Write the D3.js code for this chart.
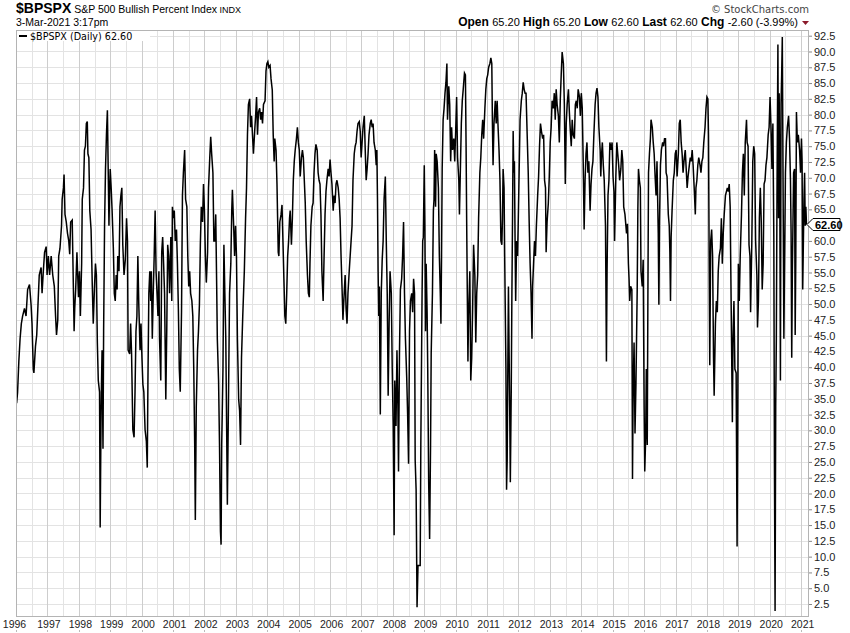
<!DOCTYPE html>
<html><head><meta charset="utf-8">
<script src="https://cdn.jsdelivr.net/npm/d3@7"></script>
<style>body{margin:0;background:#fff}svg{display:block}</style>
</head><body><svg id="c" width="850" height="633"></svg>
<script>
// ---- data: [decimal year, bullish percent] ----
const seg1996to2002 = [[1996.02,34.3],[1996.05,36.0],[1996.09,40.9],[1996.13,44.5],[1996.17,46.9],[1996.21,48.1],[1996.27,49.3],[1996.32,48.1],[1996.37,52.3],[1996.43,53.1],[1996.48,49.9],[1996.51,46.9],[1996.55,39.7],[1996.57,39.1],[1996.62,43.3],[1996.66,45.1],[1996.70,49.9],[1996.74,54.6],[1996.80,55.8],[1996.83,51.7],[1996.87,55.2],[1996.91,58.2],[1996.96,59.1],[1996.99,54.6],[1997.03,57.6],[1997.07,54.6],[1997.12,57.6],[1997.17,54.6],[1997.22,52.8],[1997.26,48.1],[1997.29,45.1],[1997.33,47.5],[1997.36,57.6],[1997.40,58.8],[1997.45,62.4],[1997.47,66.6],[1997.51,68.4],[1997.53,70.5],[1997.56,64.2],[1997.60,63.0],[1997.64,61.2],[1997.68,60.0],[1997.71,57.9],[1997.74,63.0],[1997.79,63.3],[1997.83,51.7],[1997.85,45.7],[1997.87,49.3],[1997.90,52.3],[1997.94,58.2],[1997.96,55.2],[1997.99,51.1],[1998.02,55.2],[1998.05,48.1],[1998.09,56.4],[1998.11,66.6],[1998.15,68.4],[1998.18,74.4],[1998.21,75.0],[1998.24,78.6],[1998.27,78.9],[1998.29,73.8],[1998.32,73.2],[1998.35,64.8],[1998.39,61.8],[1998.43,52.8],[1998.46,46.9],[1998.50,52.8],[1998.53,56.4],[1998.56,54.6],[1998.59,43.9],[1998.62,37.9],[1998.66,36.1],[1998.68,14.6],[1998.71,33.7],[1998.74,42.7],[1998.77,27.1],[1998.79,45.7],[1998.82,62.4],[1998.85,71.4],[1998.88,76.8],[1998.91,80.7],[1998.96,62.4],[1998.98,67.8],[1999.00,71.4],[1999.03,68.4],[1999.06,64.8],[1999.10,58.8],[1999.13,51.7],[1999.16,50.5],[1999.19,54.6],[1999.22,52.3],[1999.24,57.6],[1999.28,55.2],[1999.31,65.4],[1999.34,67.2],[1999.37,68.4],[1999.40,59.4],[1999.44,54.6],[1999.48,57.0],[1999.52,63.6],[1999.55,60.0],[1999.57,42.7],[1999.62,42.1],[1999.65,46.9],[1999.68,42.1],[1999.72,30.1],[1999.76,28.9],[1999.79,36.1],[1999.82,45.7],[1999.85,48.1],[1999.88,57.6],[1999.91,49.9],[1999.95,42.7],[1999.98,46.9],[2000.01,41.5],[2000.04,37.3],[2000.07,36.1],[2000.11,30.1],[2000.15,28.3],[2000.18,24.1],[2000.20,37.3],[2000.23,51.7],[2000.26,55.2],[2000.29,50.5],[2000.31,55.2],[2000.34,44.5],[2000.37,51.7],[2000.40,57.6],[2000.43,64.8],[2000.46,55.2],[2000.49,51.7],[2000.52,48.1],[2000.55,55.2],[2000.57,44.5],[2000.61,37.9],[2000.64,58.2],[2000.67,60.6],[2000.70,56.4],[2000.73,51.7],[2000.77,34.9],[2000.80,45.7],[2000.83,59.4],[2000.86,57.6],[2000.89,51.7],[2000.93,60.6],[2000.96,50.5],[2000.98,65.4],[2001.01,63.6],[2001.04,64.8],[2001.07,60.0],[2001.11,61.8],[2001.14,56.4],[2001.17,49.3],[2001.20,39.7],[2001.23,36.1],[2001.27,48.7],[2001.30,67.2],[2001.33,70.8],[2001.37,74.4],[2001.40,66.6],[2001.44,65.4],[2001.47,57.6],[2001.50,52.8],[2001.53,55.2],[2001.56,51.7],[2001.60,50.5],[2001.63,48.1],[2001.66,39.7],[2001.69,27.7],[2001.71,15.8],[2001.74,33.7],[2001.78,42.7],[2001.81,45.7],[2001.84,49.9],[2001.87,59.4],[2001.90,65.4],[2001.94,63.0],[2001.97,69.0],[2002.00,64.8],[2002.03,57.6],[2002.06,53.4],[2002.10,58.2],[2002.13,68.4],[2002.17,73.2],[2002.20,76.5],[2002.23,73.8],[2002.27,70.8],[2002.30,60.0]];
const seg2002to2008 = [[2002.33,60.0],[2002.36,64.2],[2002.39,52.8],[2002.41,44.5],[2002.45,37.9],[2002.48,27.7],[2002.51,14.0],[2002.53,11.9],[2002.55,27.7],[2002.59,39.7],[2002.62,59.4],[2002.65,51.7],[2002.68,44.5],[2002.71,28.9],[2002.73,18.2],[2002.77,36.7],[2002.80,51.7],[2002.84,56.4],[2002.87,64.8],[2002.89,68.1],[2002.93,62.4],[2002.96,57.6],[2002.99,62.4],[2003.02,57.6],[2003.05,44.5],[2003.09,34.9],[2003.12,33.1],[2003.15,27.7],[2003.18,41.5],[2003.22,48.1],[2003.27,55.2],[2003.31,63.6],[2003.34,68.4],[2003.37,76.8],[2003.40,81.6],[2003.44,82.5],[2003.47,78.0],[2003.50,79.8],[2003.53,76.8],[2003.56,73.8],[2003.60,77.4],[2003.63,79.8],[2003.66,82.8],[2003.69,76.8],[2003.72,80.4],[2003.76,81.0],[2003.79,79.2],[2003.82,80.4],[2003.85,78.6],[2003.88,81.6],[2003.93,82.2],[2003.96,86.9],[2003.99,88.1],[2004.02,88.4],[2004.05,87.5],[2004.09,87.8],[2004.12,85.7],[2004.16,83.9],[2004.19,76.8],[2004.22,72.6],[2004.24,76.2],[2004.28,74.4],[2004.31,69.0],[2004.33,63.6],[2004.35,58.2],[2004.37,57.6],[2004.40,63.0],[2004.44,64.2],[2004.47,65.7],[2004.50,60.0],[2004.53,54.0],[2004.56,48.1],[2004.59,46.9],[2004.62,51.7],[2004.65,57.6],[2004.68,60.0],[2004.71,63.6],[2004.73,64.8],[2004.77,59.4],[2004.80,63.6],[2004.83,69.6],[2004.86,72.6],[2004.89,74.4],[2004.93,76.2],[2004.96,78.0],[2004.99,75.6],[2005.02,74.4],[2005.05,70.2],[2005.09,73.2],[2005.12,74.4],[2005.15,73.2],[2005.18,69.6],[2005.21,66.0],[2005.24,60.0],[2005.28,54.6],[2005.31,51.7],[2005.34,51.1],[2005.36,56.4],[2005.39,62.4],[2005.43,65.4],[2005.46,66.0],[2005.49,70.8],[2005.52,73.8],[2005.55,75.3],[2005.59,74.4],[2005.62,70.8],[2005.65,69.6],[2005.68,69.0],[2005.71,64.2],[2005.74,55.2],[2005.78,50.5],[2005.81,57.6],[2005.84,64.2],[2005.87,67.8],[2005.90,69.6],[2005.94,71.4],[2005.97,70.2],[2006.00,72.9],[2006.03,70.8],[2006.06,69.0],[2006.10,64.8],[2006.13,67.2],[2006.16,66.0],[2006.19,69.0],[2006.22,69.6],[2006.26,68.4],[2006.29,66.6],[2006.32,63.6],[2006.35,57.6],[2006.38,52.8],[2006.41,47.5],[2006.45,51.7],[2006.48,54.6],[2006.51,49.3],[2006.54,46.9],[2006.57,51.7],[2006.61,55.2],[2006.64,57.6],[2006.67,60.0],[2006.70,62.4],[2006.73,69.6],[2006.77,73.8],[2006.80,75.0],[2006.83,75.6],[2006.86,77.4],[2006.89,78.6],[2006.93,78.9],[2006.96,77.4],[2006.99,73.2],[2007.02,75.6],[2007.05,78.0],[2007.09,79.8],[2007.12,74.4],[2007.15,69.6],[2007.18,71.4],[2007.21,73.8],[2007.24,76.8],[2007.28,78.6],[2007.31,79.2],[2007.34,78.0],[2007.37,78.6],[2007.40,75.6],[2007.44,74.4],[2007.47,72.0],[2007.49,74.4],[2007.51,66.6],[2007.53,55.2],[2007.55,48.1],[2007.57,52.8],[2007.60,32.5],[2007.63,51.7],[2007.66,57.0],[2007.69,60.0],[2007.72,66.6],[2007.76,70.2],[2007.79,60.0],[2007.82,51.7],[2007.85,35.5],[2007.88,46.9],[2007.91,55.2],[2007.95,51.7],[2007.98,39.7],[2008.01,30.7],[2008.04,13.4],[2008.06,37.9],[2008.10,30.7],[2008.13,42.7],[2008.16,33.7],[2008.18,23.5],[2008.21,42.1],[2008.24,52.3],[2008.28,54.0],[2008.31,57.6],[2008.34,63.0],[2008.37,51.7],[2008.40,44.5],[2008.44,38.5],[2008.47,32.5],[2008.50,24.7],[2008.53,45.7],[2008.56,50.5],[2008.60,51.7],[2008.63,48.7],[2008.66,54.0],[2008.69,51.7],[2008.71,25.3],[2008.74,20.6],[2008.77,2.0],[2008.80,8.6],[2008.83,8.6]];
const seg2008to2015 = [[2008.87,8.6],[2008.89,27.7],[2008.93,51.7],[2008.95,60.0],[2008.97,60.6],[2009.00,72.0],[2009.02,62.4],[2009.04,45.7],[2009.06,56.4],[2009.09,48.7],[2009.11,39.7],[2009.14,21.8],[2009.17,12.8],[2009.20,27.7],[2009.22,42.1],[2009.26,51.7],[2009.29,64.8],[2009.31,66.6],[2009.33,74.4],[2009.36,65.4],[2009.38,73.8],[2009.41,72.6],[2009.45,68.4],[2009.48,57.6],[2009.51,51.7],[2009.53,46.9],[2009.55,57.6],[2009.57,71.4],[2009.60,79.2],[2009.63,81.0],[2009.66,83.4],[2009.69,85.1],[2009.72,88.1],[2009.74,79.2],[2009.78,84.5],[2009.81,81.6],[2009.84,72.6],[2009.87,78.0],[2009.90,74.4],[2009.94,76.2],[2009.97,72.6],[2010.00,77.4],[2010.03,82.8],[2010.06,73.2],[2010.10,69.6],[2010.12,64.2],[2010.15,71.4],[2010.18,78.6],[2010.21,82.2],[2010.24,84.0],[2010.28,86.6],[2010.31,86.3],[2010.33,75.6],[2010.35,63.0],[2010.37,51.7],[2010.39,40.9],[2010.41,48.1],[2010.45,55.2],[2010.48,37.9],[2010.51,41.5],[2010.54,49.3],[2010.57,59.4],[2010.61,54.6],[2010.64,43.9],[2010.67,51.7],[2010.70,54.6],[2010.73,63.6],[2010.77,70.8],[2010.80,73.2],[2010.83,76.8],[2010.86,79.2],[2010.89,76.2],[2010.93,81.0],[2010.96,84.0],[2010.99,85.7],[2011.02,86.3],[2011.05,87.5],[2011.09,88.1],[2011.12,89.0],[2011.15,88.1],[2011.17,78.6],[2011.19,72.0],[2011.22,78.6],[2011.26,82.2],[2011.29,78.6],[2011.32,82.2],[2011.35,78.0],[2011.38,74.4],[2011.41,69.6],[2011.44,60.0],[2011.47,59.4],[2011.49,63.6],[2011.51,71.4],[2011.54,68.4],[2011.56,57.6],[2011.60,39.7],[2011.62,20.6],[2011.64,25.3],[2011.66,39.7],[2011.68,52.8],[2011.70,42.7],[2011.72,33.7],[2011.74,21.8],[2011.77,36.7],[2011.79,51.7],[2011.81,63.6],[2011.83,77.4],[2011.85,70.8],[2011.87,72.6],[2011.89,60.6],[2011.91,50.5],[2011.94,60.0],[2011.97,57.6],[2011.99,62.4],[2012.02,70.8],[2012.05,79.2],[2012.09,82.2],[2012.12,83.4],[2012.15,85.1],[2012.18,84.0],[2012.21,83.4],[2012.24,83.4],[2012.28,76.2],[2012.31,70.8],[2012.34,63.0],[2012.37,56.4],[2012.40,51.7],[2012.43,44.5],[2012.45,52.8],[2012.48,56.4],[2012.51,60.0],[2012.54,57.6],[2012.57,62.4],[2012.61,67.2],[2012.64,70.2],[2012.67,75.0],[2012.70,78.6],[2012.73,77.4],[2012.77,76.2],[2012.80,76.8],[2012.83,69.6],[2012.86,68.4],[2012.88,58.2],[2012.91,63.0],[2012.95,66.0],[2012.98,70.2],[2013.01,75.6],[2013.04,78.0],[2013.07,82.2],[2013.11,81.0],[2013.14,83.4],[2013.17,79.2],[2013.20,84.0],[2013.23,81.6],[2013.27,79.8],[2013.30,75.6],[2013.33,82.2],[2013.36,86.3],[2013.39,89.9],[2013.43,88.1],[2013.46,81.6],[2013.49,69.0],[2013.52,78.6],[2013.55,81.6],[2013.59,84.0],[2013.62,80.4],[2013.65,77.4],[2013.68,75.0],[2013.71,79.2],[2013.74,76.8],[2013.78,76.2],[2013.81,81.6],[2013.84,82.2],[2013.87,81.0],[2013.90,84.0],[2013.94,82.8],[2013.97,79.8],[2014.00,83.4],[2014.03,81.0],[2014.06,72.6],[2014.09,61.8],[2014.12,69.6],[2014.15,73.8],[2014.18,75.6],[2014.21,70.8],[2014.24,72.6],[2014.28,64.8],[2014.31,69.0],[2014.34,71.4],[2014.37,72.6],[2014.40,76.8],[2014.44,81.6],[2014.47,83.4],[2014.50,84.2],[2014.53,82.8],[2014.56,78.0],[2014.60,74.4],[2014.62,70.2],[2014.64,73.2],[2014.67,75.6],[2014.70,72.0],[2014.73,69.6],[2014.77,62.4],[2014.80,40.9],[2014.82,55.2],[2014.85,67.2],[2014.88,69.6],[2014.91,75.6],[2014.95,74.4],[2014.98,75.6],[2015.01,70.2],[2015.04,67.8],[2015.06,60.0],[2015.10,70.2],[2015.13,75.6],[2015.16,73.8],[2015.19,72.0],[2015.22,69.6],[2015.26,71.4],[2015.29,74.4],[2015.32,72.6],[2015.35,65.4]];
const seg2015to2021 = [[2015.39,64.2],[2015.44,61.2],[2015.47,62.7],[2015.50,56.4],[2015.52,54.0],[2015.54,50.5],[2015.57,52.8],[2015.61,52.3],[2015.63,22.3],[2015.65,36.1],[2015.68,43.9],[2015.71,29.5],[2015.74,37.3],[2015.78,52.3],[2015.80,64.8],[2015.82,71.4],[2015.85,69.6],[2015.88,68.4],[2015.90,55.2],[2015.94,52.8],[2015.97,57.0],[2016.00,33.7],[2016.02,23.5],[2016.05,28.9],[2016.07,39.7],[2016.10,27.7],[2016.12,51.1],[2016.14,70.8],[2016.17,73.8],[2016.20,76.2],[2016.22,79.2],[2016.26,78.0],[2016.29,75.6],[2016.32,73.8],[2016.35,70.2],[2016.38,67.2],[2016.41,72.6],[2016.45,61.2],[2016.47,49.9],[2016.49,63.0],[2016.52,72.0],[2016.55,74.4],[2016.59,75.6],[2016.62,75.0],[2016.65,76.2],[2016.68,76.2],[2016.70,70.8],[2016.73,70.2],[2016.77,64.2],[2016.80,62.4],[2016.82,58.2],[2016.84,50.5],[2016.86,60.6],[2016.89,64.8],[2016.93,69.6],[2016.96,70.8],[2016.99,73.8],[2017.02,74.4],[2017.05,70.2],[2017.09,73.8],[2017.12,78.6],[2017.15,79.2],[2017.18,75.6],[2017.21,73.8],[2017.24,70.8],[2017.28,73.2],[2017.31,74.4],[2017.34,71.4],[2017.37,68.4],[2017.40,70.2],[2017.44,72.0],[2017.47,73.2],[2017.50,72.6],[2017.53,74.4],[2017.56,72.0],[2017.60,67.8],[2017.63,64.2],[2017.65,68.4],[2017.68,69.6],[2017.71,72.0],[2017.74,73.2],[2017.78,72.0],[2017.81,70.8],[2017.84,72.6],[2017.87,73.2],[2017.90,75.6],[2017.94,78.0],[2017.97,81.0],[2018.00,82.8],[2018.03,82.5],[2018.05,76.8],[2018.07,57.6],[2018.09,40.3],[2018.12,60.0],[2018.15,61.8],[2018.18,57.6],[2018.21,41.5],[2018.23,35.5],[2018.27,46.9],[2018.30,50.5],[2018.33,48.7],[2018.36,55.2],[2018.39,57.6],[2018.43,58.8],[2018.46,63.6],[2018.49,56.4],[2018.52,61.2],[2018.55,64.2],[2018.59,67.2],[2018.62,67.8],[2018.65,68.4],[2018.68,67.8],[2018.71,69.0],[2018.74,65.4],[2018.78,45.7],[2018.81,31.3],[2018.83,44.5],[2018.86,50.5],[2018.89,39.7],[2018.93,39.1],[2018.96,11.6],[2018.98,30.7],[2019.00,56.4],[2019.03,50.5],[2019.06,57.6],[2019.10,64.2],[2019.13,70.8],[2019.16,73.8],[2019.19,67.2],[2019.22,75.6],[2019.26,79.2],[2019.28,75.6],[2019.31,75.0],[2019.34,59.4],[2019.37,57.6],[2019.39,48.7],[2019.43,60.0],[2019.46,72.6],[2019.49,75.0],[2019.52,73.8],[2019.55,60.0],[2019.59,54.6],[2019.61,46.3],[2019.64,50.5],[2019.67,63.6],[2019.70,68.4],[2019.73,63.0],[2019.76,52.3],[2019.79,56.4],[2019.82,69.0],[2019.85,69.6],[2019.88,72.0],[2019.91,73.2],[2019.95,76.8],[2019.98,78.0],[2020.01,82.8],[2020.04,78.0],[2020.07,71.4],[2020.10,78.6],[2020.13,60.6],[2020.15,24.1],[2020.17,1.4],[2020.19,33.7],[2020.21,44.5],[2020.23,66.6],[2020.26,91.1],[2020.28,63.6],[2020.30,83.4],[2020.32,69.6],[2020.34,37.9],[2020.36,81.6],[2020.38,86.3],[2020.40,92.3],[2020.43,63.6],[2020.45,44.5],[2020.47,55.2],[2020.50,70.8],[2020.53,75.6],[2020.56,78.0],[2020.60,79.8],[2020.63,76.2],[2020.66,69.6],[2020.68,61.2],[2020.70,41.5],[2020.72,55.2],[2020.76,70.8],[2020.79,71.4],[2020.81,45.1],[2020.83,57.6],[2020.85,80.4],[2020.88,75.6],[2020.91,76.8],[2020.95,74.4],[2020.98,70.8],[2021.01,76.2],[2021.03,72.6],[2021.05,52.3],[2021.09,66.6],[2021.11,70.8],[2021.13,62.4],[2021.15,65.4],[2021.17,62.6]];

const yearTicks = d3.range(1996, 2022);          // 1996 ... 2021
const valueTicks = d3.range(2.5, 93, 2.5);       // 2.5 ... 92.5
const lastValue = 62.60;
const quote = [["Open","65.20"],["High","65.20"],["Low","62.60"],["Last","62.60"],["Chg","-2.60 (-3.99%)"]];

// ---- layout ----
const L = 16, R = 809, T = 30, B = 617;
const FONT = "Liberation Sans, Arial, sans-serif";
const svg = d3.select("#c");
const x = d3.scaleLinear().domain([1996, 2021.25]).range([L, R]);
const y = d3.scaleLinear().domain([2.5, 92.5]).range([604, 35.7]);
const series = [].concat(seg1996to2002, seg2002to2008, seg2008to2015, seg2015to2021);

svg.append("defs").append("clipPath").attr("id","clip")
  .append("rect").attr("x",L).attr("y",T).attr("width",R-L).attr("height",B-T);

// grid
const grid = svg.append("g").attr("shape-rendering","crispEdges");
grid.selectAll(".h").data(valueTicks).join("line")
  .attr("x1",L).attr("x2",R).attr("y1",d=>Math.round(y(d))+0.5).attr("y2",d=>Math.round(y(d))+0.5)
  .attr("stroke","#e3e3e3");
const halfYears = d3.range(1996.5, 2021.3, 1);
grid.selectAll(".hv").data(halfYears).join("line")
  .attr("x1",d=>Math.round(x(d))+0.5).attr("x2",d=>Math.round(x(d))+0.5).attr("y1",T).attr("y2",B)
  .attr("stroke","#e3e3e3");
grid.selectAll(".v").data(yearTicks).join("line")
  .attr("x1",d=>Math.round(x(d))+0.5).attr("x2",d=>Math.round(x(d))+0.5).attr("y1",T).attr("y2",B)
  .attr("stroke","#cdcdcd");

// line
svg.append("path").datum(series)
  .attr("clip-path","url(#clip)")
  .attr("fill","none").attr("stroke","#000").attr("stroke-width",1.5)
  .attr("d", d3.line().x(d=>x(d[0])).y(d=>y(d[1])));

// frame
svg.append("rect").attr("x",L+0.5).attr("y",T+0.5).attr("width",R-L-1).attr("height",B-T-1)
  .attr("fill","none").attr("stroke","#b4b4b4").attr("shape-rendering","crispEdges");

// right axis (the 62.5 label is hidden behind the last-value tag, as in the original)
const yAxis = d3.axisRight(y).tickValues(valueTicks).tickSize(3).tickPadding(2)
  .tickFormat(d => d === 62.5 ? "" : d3.format(".1f")(d));
const ya = svg.append("g").attr("transform",`translate(${R},0)`).call(yAxis);
ya.select(".domain").remove();
ya.selectAll("line").attr("stroke","#888");
ya.selectAll("text").attr("font-family",FONT).attr("font-size","11px").attr("fill","#222");

// bottom axis
const xAxis = d3.axisBottom(x).tickValues(yearTicks).tickSize(0).tickPadding(0).tickFormat(d3.format("d"));
const xa = svg.append("g").attr("transform",`translate(0,${B})`).call(xAxis);
xa.select(".domain").remove();
xa.selectAll("text").attr("font-family",FONT).attr("font-size","10.5px").attr("fill","#222")
  .attr("dy",null).attr("y",11)
  .attr("dx", d => d===1996 ? -2 : 1);
svg.append("g").selectAll("line").data(yearTicks).join("line")
  .attr("x1",d=>Math.round(x(d))+0.5).attr("x2",d=>Math.round(x(d))+0.5).attr("y1",630).attr("y2",632)
  .attr("stroke","#bbb");

// last value tag
const ly = y(lastValue);
svg.append("path")
  .attr("d",`M${R-2},${ly} L${R+4},${ly-6} L${R+31},${ly-6} L${R+31},${ly+6} L${R+4},${ly+6} Z`)
  .attr("fill","#fff").attr("stroke","#000").attr("stroke-width",1);
svg.append("text").attr("x",R+6).attr("y",ly+4).text(d3.format(".2f")(lastValue))
  .attr("font-family",FONT).attr("font-size","11px").attr("font-weight","bold");

// legend
svg.append("rect").attr("x",L+1).attr("y",T+1).attr("width",133).attr("height",10).attr("fill","#fff");
svg.append("line").attr("x1",19).attr("x2",27).attr("y1",36).attr("y2",36).attr("stroke","#000").attr("stroke-width",2);
svg.append("text").attr("x",30).attr("y",40).text(`$BPSPX (Daily) ${d3.format(".2f")(lastValue)}`)
  .attr("font-family","DejaVu Sans, Verdana, sans-serif").attr("font-size","9.6px").attr("fill","#000");

// header
const hdr = svg.append("text").attr("x",16).attr("y",13).attr("font-family",FONT);
hdr.append("tspan").text("$BPSPX").attr("font-weight","bold").attr("font-size","14px");
hdr.append("tspan").text(" S&P 500 Bullish Percent Index").attr("font-size","10.5px");
hdr.append("tspan").text("  INDX").attr("font-size","9px");
svg.append("text").attr("x",16).attr("y",26).text("3-Mar-2021 3:17pm")
  .attr("font-family",FONT).attr("font-size","10.5px");
svg.append("text").attr("x",809).attr("y",13).attr("text-anchor","end").text("© StockCharts.com")
  .attr("font-family","DejaVu Sans, Verdana, sans-serif").attr("font-size","10px").attr("fill","#444");
const q = svg.append("text").attr("x",798).attr("y",26).attr("text-anchor","end")
  .attr("font-family",FONT).attr("font-size","11px");
quote.forEach(([k,v],i)=>{
  q.append("tspan").text((i?"  ":"")+k+" ").attr("font-weight","bold").attr("font-size","12px");
  q.append("tspan").text(v);
});
svg.append("path").attr("d","M802,21 L809,21 L805.5,25 Z").attr("fill","#8b1a2b");
</script>
</body></html>
